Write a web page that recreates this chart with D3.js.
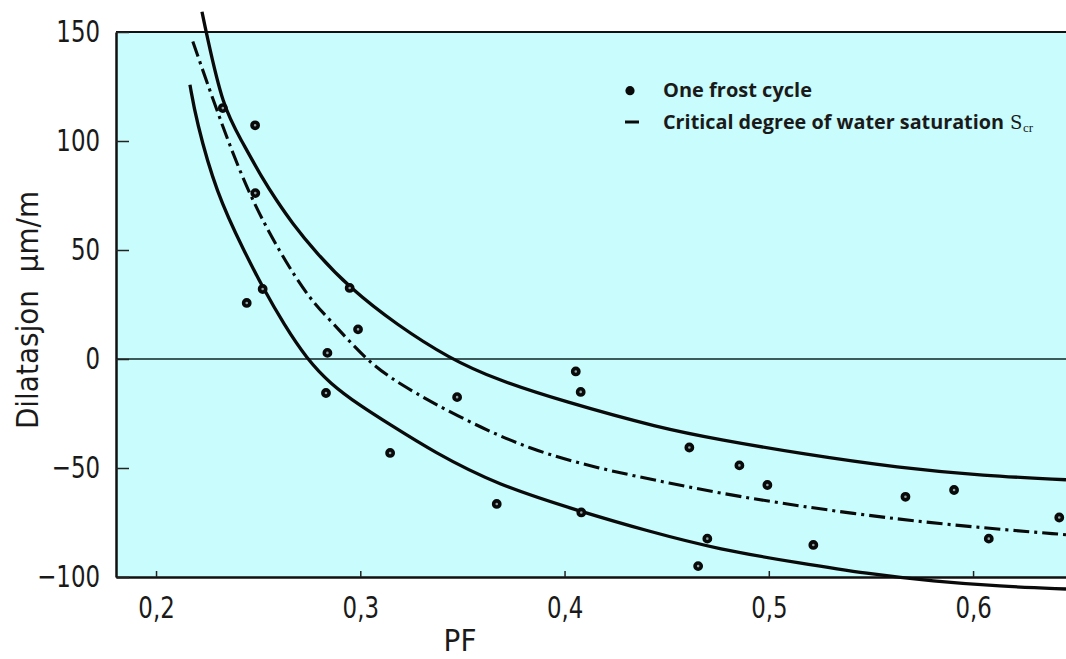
<!DOCTYPE html>
<html>
<head>
<meta charset="utf-8">
<script src="https://cdn.jsdelivr.net/npm/d3@7"></script>
<style>
  body { margin: 0; background: #fff; }
  svg { display: block; }
</style>
</head>
<body>
<div id="chart"></div>
<script>
// Measured points, one frost cycle.
var frostPF  = [0.2327, 0.2485, 0.2486, 0.2522, 0.2444, 0.2948, 0.2989, 0.2839, 0.2832,
                0.3474, 0.3146, 0.4055, 0.4079, 0.3668, 0.4082, 0.4611, 0.4699, 0.4654,
                0.4856, 0.4993, 0.5218, 0.5669, 0.5907, 0.6077, 0.6422];
var frostDil = [115.1, 107.2, 76.1, 32.1, 25.7, 32.6, 13.6, 2.8, -15.6,
                -17.5, -43.1, -5.7, -15.1, -66.5, -70.4, -40.6, -82.4, -95.0,
                -48.8, -57.8, -85.3, -63.2, -60.1, -82.4, -72.7];

// Curves as [PF, dilatation] pairs.
var upperCurve = [[0.2225, 159.3], [0.2245, 150.1], [0.2328, 115.3], [0.2416, 100.6],
                  [0.2524, 82.2], [0.2588, 73.1], [0.2661, 63.0], [0.2783, 48.8],
                  [0.2947, 32.7], [0.3178, 15.7], [0.3439, 0.1], [0.3668, -9.5],
                  [0.3994, -19.4], [0.4468, -31.7], [0.4761, -37.0], [0.5153, -43.4],
                  [0.5642, -50.0], [0.6050, -53.5], [0.6455, -55.4]];
var critCurve  = [[0.2180, 145.6], [0.2313, 109.8], [0.2450, 76.3], [0.2607, 48.6],
                  [0.2754, 27.2], [0.2852, 18.0], [0.3023, 0.1], [0.3178, -11.0],
                  [0.3505, -27.8], [0.3831, -41.6], [0.4158, -50.0], [0.4468, -56.1],
                  [0.4761, -61.6], [0.5153, -67.6], [0.5642, -73.7], [0.6050, -77.5],
                  [0.6455, -80.6]];
var lowerCurve = [[0.2166, 125.8], [0.2196, 109.8], [0.2294, 76.3], [0.2436, 48.6],
                  [0.2522, 32.9], [0.2627, 15.7], [0.2738, 0.1], [0.2852, -11.3],
                  [0.2999, -21.4], [0.3146, -30.1], [0.3356, -42.5], [0.3668, -57.7],
                  [0.4081, -70.0], [0.4402, -78.8], [0.4761, -87.5], [0.5153, -93.6],
                  [0.5480, -98.5], [0.5806, -102.0], [0.6132, -104.3], [0.6455, -105.5]];

// Axis ticks and labels.
var xTicks = [0.2, 0.3, 0.4, 0.5, 0.6];
var yTicks = [-100, -50, 0, 50, 100, 150];
var xTitle = "PF";
var yTitle = "Dilatasjon  \u03bcm/m";
var legendDots = "One frost cycle";
var legendLine = "Critical degree of water saturation";

// Layout.
var width = 1066;
var height = 659;
var margin = {top: 32, right: 0, bottom: 82, left: 116};
var tickFont = "'DejaVu Sans Condensed', 'DejaVu Sans', sans-serif";

var svg = d3.select("#chart")
  .append("svg")
  .attr("width", width)
  .attr("height", height);

var x = d3.scaleLinear()
  .domain([0.1804, 0.6455])
  .range([margin.left, width - margin.right]);

var y = d3.scaleLinear()
  .domain([-100, 150])
  .range([height - margin.bottom, margin.top]);

// Plot background.
svg.append("rect")
  .attr("x", margin.left)
  .attr("y", margin.top)
  .attr("width", width - margin.left - margin.right)
  .attr("height", y(-100) - y(150))
  .attr("fill", "#c9fcfc");

// Zero line.
svg.append("line")
  .attr("x1", x.range()[0]).attr("x2", x.range()[1])
  .attr("y1", y(0)).attr("y2", y(0))
  .attr("stroke", "#3d5a5a")
  .attr("stroke-width", 2);

// Top border.
svg.append("line")
  .attr("x1", x.range()[0]).attr("x2", x.range()[1])
  .attr("y1", y(150)).attr("y2", y(150))
  .attr("stroke", "#111")
  .attr("stroke-width", 2.2);

// Axes, ticks pointing into the plot.
var xAxis = svg.append("g")
  .attr("transform", "translate(0," + y(-100) + ")")
  .call(d3.axisBottom(x)
    .tickValues(xTicks)
    .tickSizeInner(-6)
    .tickSizeOuter(0)
    .tickPadding(19)
    .tickFormat(function(d) { return d3.format(".1f")(d).replace(".", ","); }));

var yAxis = svg.append("g")
  .attr("transform", "translate(" + margin.left + ",0)")
  .call(d3.axisLeft(y)
    .tickValues(yTicks)
    .tickSizeInner(-13)
    .tickSizeOuter(0)
    .tickPadding(16));

[xAxis, yAxis].forEach(function(ax) {
  ax.select(".domain").attr("stroke", "#111").attr("stroke-width", 2.5);
  ax.selectAll(".tick line").attr("stroke", "#222").attr("stroke-width", 1.5);
  ax.selectAll(".tick text")
    .attr("fill", "#1a1a1a")
    .style("font-family", tickFont)
    .style("font-weight", "300")
    .style("font-size", "31px")
    .each(function() {
      // squeeze to the narrow look of the original lettering
      var len = this.getComputedTextLength();
      d3.select(this).attr("textLength", len * 0.82).attr("lengthAdjust", "spacingAndGlyphs");
    });
});

// Axis titles.
svg.append("text")
  .attr("x", 460)
  .attr("y", 651)
  .attr("text-anchor", "middle")
  .style("font-family", tickFont)
  .style("font-weight", "300")
  .style("font-size", "31px")
  .attr("fill", "#1a1a1a")
  .text(xTitle);

svg.append("text")
  .attr("transform", "translate(38," + y(22.5) + ") rotate(-90)")
  .attr("text-anchor", "middle")
  .style("font-family", tickFont)
  .style("font-weight", "300")
  .style("font-size", "31px")
  .style("white-space", "pre")
  .attr("fill", "#1a1a1a")
  .text(yTitle);

// Curves, smoothed through the read-off points.
var line = d3.line()
  .x(function(d) { return x(d[0]); })
  .y(function(d) { return y(d[1]); })
  .curve(d3.curveBasis);

[upperCurve, lowerCurve].forEach(function(c) {
  svg.append("path")
    .datum(c)
    .attr("d", line)
    .attr("fill", "none")
    .attr("stroke", "#0a0a0a")
    .attr("stroke-width", 3.3);
});

svg.append("path")
  .datum(critCurve)
  .attr("d", line)
  .attr("fill", "none")
  .attr("stroke", "#0a0a0a")
  .attr("stroke-width", 3.1)
  .attr("stroke-dasharray", "16,5,3,5");

// Points.
svg.selectAll("circle.frost")
  .data(frostPF)
  .enter()
  .append("circle")
  .attr("class", "frost")
  .attr("cx", function(d) { return x(d); })
  .attr("cy", function(d, i) { return y(frostDil[i]); })
  .attr("r", 3.1)
  .attr("fill", "#8fa5a5")
  .attr("stroke", "#0a0a0a")
  .attr("stroke-width", 3.6);

// Legend.
var legend = svg.append("g")
  .style("font-family", "'Open Sans', Lato, sans-serif")
  .style("font-weight", "bold")
  .attr("fill", "#1a1a1a");

legend.append("circle")
  .attr("cx", 630).attr("cy", 90.7)
  .attr("r", 4.6)
  .attr("fill", "#0a0a0a");

legend.append("text")
  .attr("x", 663).attr("y", 97)
  .style("font-size", "19px")
  .attr("textLength", 149)
  .attr("lengthAdjust", "spacingAndGlyphs")
  .text(legendDots);

legend.append("line")
  .attr("x1", 625).attr("x2", 639)
  .attr("y1", 122).attr("y2", 122)
  .attr("stroke", "#0a0a0a")
  .attr("stroke-width", 3);

legend.append("text")
  .attr("x", 663).attr("y", 128.5)
  .style("font-size", "19px")
  .attr("textLength", 341)
  .attr("lengthAdjust", "spacingAndGlyphs")
  .text(legendLine);

legend.append("text")
  .attr("x", 1010).attr("y", 128.5)
  .style("font-family", "'DejaVu Serif', 'Liberation Serif', serif")
  .style("font-weight", "normal")
  .style("font-size", "18px")
  .text("S");

legend.append("text")
  .attr("x", 1023).attr("y", 131.5)
  .style("font-family", "'Liberation Serif', serif")
  .style("font-weight", "normal")
  .style("font-size", "13px")
  .text("cr");
</script>
</body>
</html>
